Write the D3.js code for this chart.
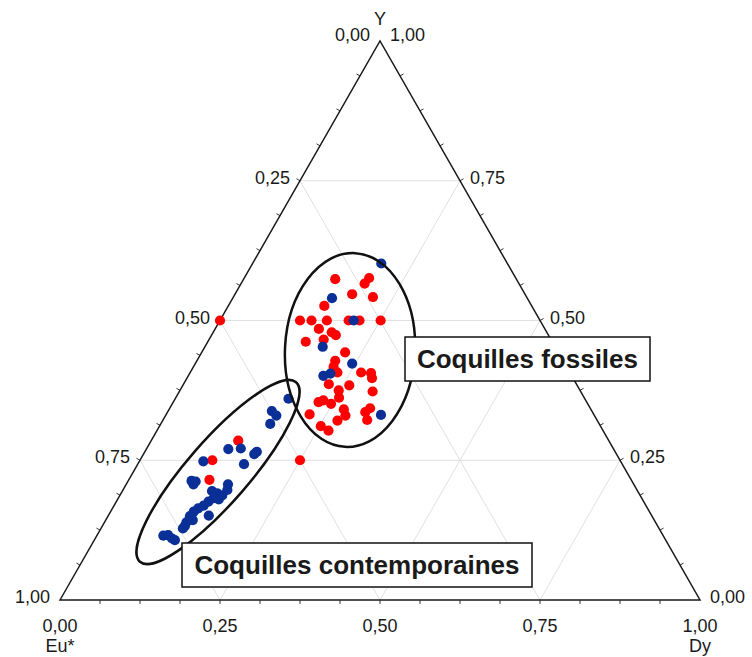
<!DOCTYPE html>
<html><head><meta charset="utf-8">
<script src="https://cdn.jsdelivr.net/npm/d3@7"></script>
<style>
body{margin:0;background:#fff}
svg{display:block}
text{font-family:"Liberation Sans",Arial,Helvetica,sans-serif;fill:#1a1a1a}
</style>
</head><body>
<svg id="chart" width="752" height="657"></svg>
<script>
// Component names at the corners: bottom-left, top, bottom-right
const vertexNames = ["Eu*", "Y", "Dy"];
const tickValues = [0, 0.25, 0.5, 0.75, 1];
const tickLabels = ["0,00", "0,25", "0,50", "0,75", "1,00"];
const gridValues = [0.25, 0.5, 0.75];
const groupNames = ["Coquilles fossiles", "Coquilles contemporaines"];

// Points as [Eu*, Y, Dy] proportions
const redPoints = [
  [0.283,0.574,0.143],[0.229,0.576,0.195],[0.241,0.566,0.193],[0.270,0.547,0.183],
  [0.240,0.542,0.218],[0.324,0.526,0.150],[0.375,0.500,0.125],[0.357,0.500,0.143],
  [0.333,0.500,0.167],[0.299,0.500,0.201],[0.282,0.500,0.218],[0.249,0.500,0.251],
  [0.353,0.485,0.162],[0.336,0.479,0.185],[0.332,0.474,0.194],[0.355,0.466,0.179],
  [0.385,0.462,0.153],[0.333,0.443,0.224],[0.356,0.428,0.216],[0.364,0.417,0.219],
  [0.363,0.407,0.230],[0.326,0.407,0.267],[0.311,0.406,0.283],[0.314,0.397,0.289],
  [0.387,0.386,0.227],[0.356,0.384,0.260],[0.377,0.375,0.248],[0.325,0.373,0.302],
  [0.383,0.362,0.255],[0.419,0.354,0.227],[0.410,0.357,0.233],[0.401,0.351,0.248],
  [0.386,0.341,0.273],[0.389,0.330,0.281],[0.444,0.332,0.224],[0.406,0.321,0.273],
  [0.344,0.343,0.313],[0.355,0.336,0.309],[0.359,0.322,0.319],[0.437,0.311,0.252],
  [0.429,0.303,0.268],[0.500,0.500,0.000],[0.500,0.250,0.250],[0.579,0.285,0.136],
  [0.637,0.250,0.113],[0.659,0.215,0.126]
];
const bluePoints = [
  [0.197,0.602,0.201],[0.305,0.540,0.155],[0.291,0.500,0.209],[0.363,0.453,0.184],
  [0.332,0.423,0.245],[0.388,0.401,0.211],[0.375,0.405,0.220],[0.333,0.331,0.336],
  [0.463,0.360,0.177],[0.500,0.338,0.162],[0.497,0.330,0.173],[0.514,0.315,0.171],
  [0.602,0.270,0.128],[0.582,0.271,0.147],[0.560,0.265,0.175],[0.566,0.261,0.173],
  [0.591,0.243,0.166],[0.652,0.248,0.100],[0.688,0.213,0.099],[0.688,0.207,0.105],
  [0.682,0.212,0.106],[0.634,0.207,0.159],[0.665,0.195,0.140],[0.659,0.191,0.150],
  [0.653,0.187,0.160],[0.640,0.197,0.163],[0.669,0.182,0.149],[0.662,0.180,0.158],
  [0.680,0.176,0.144],[0.691,0.169,0.140],[0.702,0.164,0.134],[0.712,0.158,0.130],
  [0.722,0.150,0.128],[0.721,0.143,0.136],[0.692,0.151,0.157],[0.733,0.139,0.128],
  [0.739,0.132,0.129],[0.744,0.128,0.128],[0.781,0.115,0.104],[0.773,0.116,0.111],
  [0.770,0.110,0.120],[0.767,0.107,0.126]
];

const svg = d3.select("#chart");
const xS = d3.scaleLinear().domain([0, 1]).range([60, 700]);
const yS = d3.scaleLinear().domain([0, 1]).range([600, 41]);
// ternary [eu, y, dy] -> pixel
const P = d => [xS(d[2] + d[1] / 2), yS(d[1])];
const line = d3.line();

// grid
const grid = svg.append("g").attr("stroke", "#e0e0e0").attr("stroke-width", 1).attr("fill", "none");
gridValues.forEach(v => {
  grid.append("path").attr("d", line([P([1 - v, v, 0]), P([0, v, 1 - v])]));
  grid.append("path").attr("d", line([P([1 - v, 0, v]), P([0, 1 - v, v])]));
  grid.append("path").attr("d", line([P([v, 0, 1 - v]), P([v, 1 - v, 0])]));
});

// minor ticks
const ticks = svg.append("g").attr("stroke", "#333").attr("stroke-width", 1);
const minor = d3.range(1, 16).map(k => k / 16);
minor.forEach(t => {
  const a = P([1 - t, t, 0]);          // left edge
  ticks.append("path").attr("d", line([a, [a[0] - 3.5, a[1] - 2]]));
  const b = P([0, t, 1 - t]);          // right edge
  ticks.append("path").attr("d", line([b, [b[0] + 3.5, b[1] - 2]]));
  const c = P([1 - t, 0, t]);          // bottom edge
  ticks.append("path").attr("d", line([c, [c[0], c[1] + 4]]));
});

// triangle
svg.append("path")
  .attr("d", line([P([1, 0, 0]), P([0, 1, 0]), P([0, 0, 1])]) + "Z")
  .attr("fill", "none").attr("stroke", "#1a1a1a").attr("stroke-width", 1.5);

// axis labels
const lab = svg.append("g").style("font-size", "18px");
tickValues.forEach((t, i) => {
  // left edge: Eu* value, 0 at top, 1 at bottom-left
  const a = P([t, 1 - t, 0]);
  lab.append("text").attr("x", a[0] - 10).attr("y", a[1] + (t === 0 ? 0 : 3))
    .attr("text-anchor", "end").text(tickLabels[i]);
  // right edge: Y value, 1 at top, 0 at bottom-right
  const b = P([0, t, 1 - t]);
  lab.append("text").attr("x", b[0] + 10).attr("y", b[1] + (t === 1 ? 0 : 3))
    .attr("text-anchor", "start").text(tickLabels[i]);
  // bottom edge: Dy value
  const c = P([1 - t, 0, t]);
  lab.append("text").attr("x", c[0]).attr("y", c[1] + 32)
    .attr("text-anchor", "middle").text(tickLabels[i]);
});
// vertex names
const vEu = P([1, 0, 0]), vY = P([0, 1, 0]), vDy = P([0, 0, 1]);
lab.append("text").attr("x", vY[0]).attr("y", vY[1] - 16).attr("text-anchor", "middle").text(vertexNames[1]);
lab.append("text").attr("x", vEu[0]).attr("y", vEu[1] + 52).attr("text-anchor", "middle").text(vertexNames[0]);
lab.append("text").attr("x", vDy[0]).attr("y", vDy[1] + 52).attr("text-anchor", "middle").text(vertexNames[2]);

// points
const pts = svg.append("g");
pts.selectAll("circle.r").data(redPoints).join("circle").attr("class", "r")
  .attr("cx", d => P(d)[0]).attr("cy", d => P(d)[1]).attr("r", 5.1).attr("fill", "#ff0000");
pts.selectAll("circle.b").data(bluePoints).join("circle").attr("class", "b")
  .attr("cx", d => P(d)[0]).attr("cy", d => P(d)[1]).attr("r", 5.1).attr("fill", "#0a2f96");

// group ellipses
svg.append("ellipse").attr("cx", 350).attr("cy", 350).attr("rx", 65).attr("ry", 97)
  .attr("transform", "rotate(3 350 350)")
  .attr("fill", "none").attr("stroke", "#111").attr("stroke-width", 2.5);
svg.append("ellipse").attr("cx", 218).attr("cy", 472).attr("rx", 119).attr("ry", 31)
  .attr("transform", "rotate(-49 218 472)")
  .attr("fill", "none").attr("stroke", "#111").attr("stroke-width", 2.5);

// label boxes
function box(x, y, w, h, txt) {
  svg.append("rect").attr("x", x).attr("y", y).attr("width", w).attr("height", h)
    .attr("fill", "#fff").attr("stroke", "#111").attr("stroke-width", 1.5);
  svg.append("text").attr("x", x + w / 2).attr("y", y + h / 2 + 9)
    .attr("text-anchor", "middle").style("font-size", "26px").style("font-weight", "bold")
    .text(txt);
}
box(405, 337, 245, 44, groupNames[0]);
box(182, 543, 350, 44, groupNames[1]);
</script>
</body></html>
